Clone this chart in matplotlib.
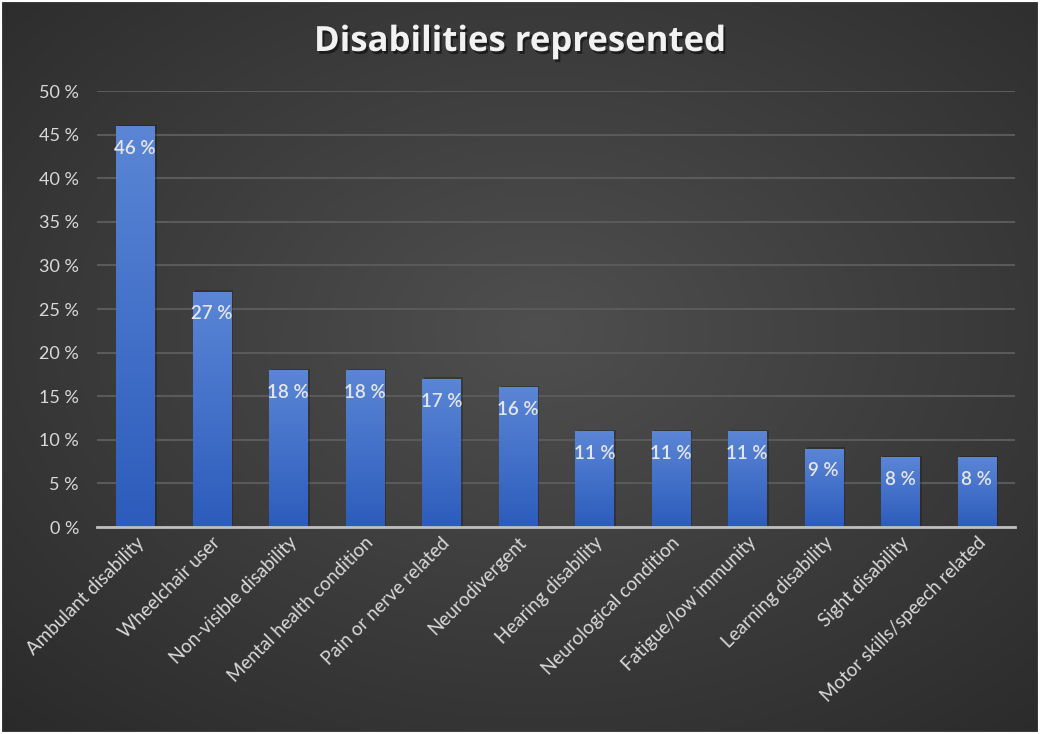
import numpy as np
import matplotlib
matplotlib.use('Agg')
import matplotlib.pyplot as plt
from matplotlib import patheffects as pe
from matplotlib.colors import LinearSegmentedColormap
from matplotlib.patches import Rectangle

categories = ["Ambulant disability", "Wheelchair user", "Non-visible disability",
              "Mental health condition", "Pain or nerve related", "Neurodivergent",
              "Hearing disability", "Neurological condition", "Fatigue/low immunity",
              "Learning disability", "Sight disability", "Motor skills/speech related"]
values = [46, 27, 18, 18, 17, 16, 11, 11, 11, 9, 8, 8]
yticks = [0, 5, 10, 15, 20, 25, 30, 35, 40, 45, 50]
ytick_labels = [f"{t} %" for t in yticks]
title = "Disabilities represented"

W, H = 1040, 734
fig = plt.figure(figsize=(W / 100, H / 100), dpi=100)

# background radial gradient
bg = fig.add_axes([0, 0, 1, 1], zorder=-10)
yy, xx = np.mgrid[0:H, 0:W]
r = np.sqrt(((xx - 540) / W) ** 2 + ((yy - 330) / H) ** 2)
r = np.clip(r / 0.75, 0, 1)
c0, c1 = 0.31, 0.165
img = c0 + (c1 - c0) * r
bg.imshow(np.dstack([img, img, img]), extent=[0, 1, 0, 1], aspect='auto', origin='upper')
bg.set_xlim(0, 1); bg.set_ylim(0, 1)
bg.axis('off')
bg.add_patch(Rectangle((0, 0), 1, 1, transform=bg.transAxes, fill=False,
                       edgecolor='white', linewidth=3))

ax = fig.add_axes([97 / W, 1 - 527 / H, 918 / W, (527 - 91) / H])
ax.set_facecolor('none')
x = np.arange(len(categories))
bars = ax.bar(x, values, width=0.5, color='#3f6fcb', edgecolor='#4068b0', linewidth=0.6, zorder=3)

cmap = LinearSegmentedColormap.from_list('g', ['#2c5cbc', '#5b86d6'])
grad = np.linspace(0, 1, 256).reshape(-1, 1)
for b in bars:
    x0 = b.get_x(); w = b.get_width(); h = b.get_height()
    ax.add_patch(Rectangle((x0 + 0.03, 0), w, h + 0.15, facecolor='black', alpha=0.22,
                           linewidth=0, zorder=2))
    im = ax.imshow(grad, extent=[x0, x0 + w, 0, h], aspect='auto', origin='lower',
                   cmap=cmap, zorder=4)
    im.set_clip_path(b)

for xi, v in zip(x, values):
    ax.annotate(f"{v} %", (xi, v), xytext=(0, -10), textcoords='offset points',
                ha='center', va='top', color='#e6e6e6', fontsize=13.5, family='Lato',
                fontweight='semibold', zorder=6)

ax.set_xlim(-0.5, len(categories) - 0.5)
ax.set_ylim(0, 50)
ax.set_yticks(yticks)
ax.set_yticklabels(ytick_labels, color='#d9d9d9', fontsize=13, family='Lato')
ax.set_xticks(x)
ax.set_xticklabels(categories, rotation=45, ha='right', rotation_mode='anchor',
                   color='#d9d9d9', fontsize=13.5, family='Lato')
ax.tick_params(axis='both', length=0)
ax.tick_params(axis='y', pad=13)
ax.tick_params(axis='x', pad=5)
for s in ['top', 'right', 'left']:
    ax.spines[s].set_visible(False)
ax.spines['bottom'].set_color('#bfbfbf')
ax.spines['bottom'].set_linewidth(2)
ax.spines['bottom'].set_zorder(5)
ax.yaxis.grid(True, color='#5a5a5a', linewidth=1.5, zorder=0)
ax.set_axisbelow(True)

fig.text(0.5, 1 - 42 / H, title, ha='center', va='center', color='#f2f2f2',
         fontsize=25, fontweight='bold', family='Open Sans',
         path_effects=[pe.withSimplePatchShadow(offset=(1.5, -2), shadow_rgbFace='black', alpha=0.5)])

fig.savefig('out.png', dpi=100)
